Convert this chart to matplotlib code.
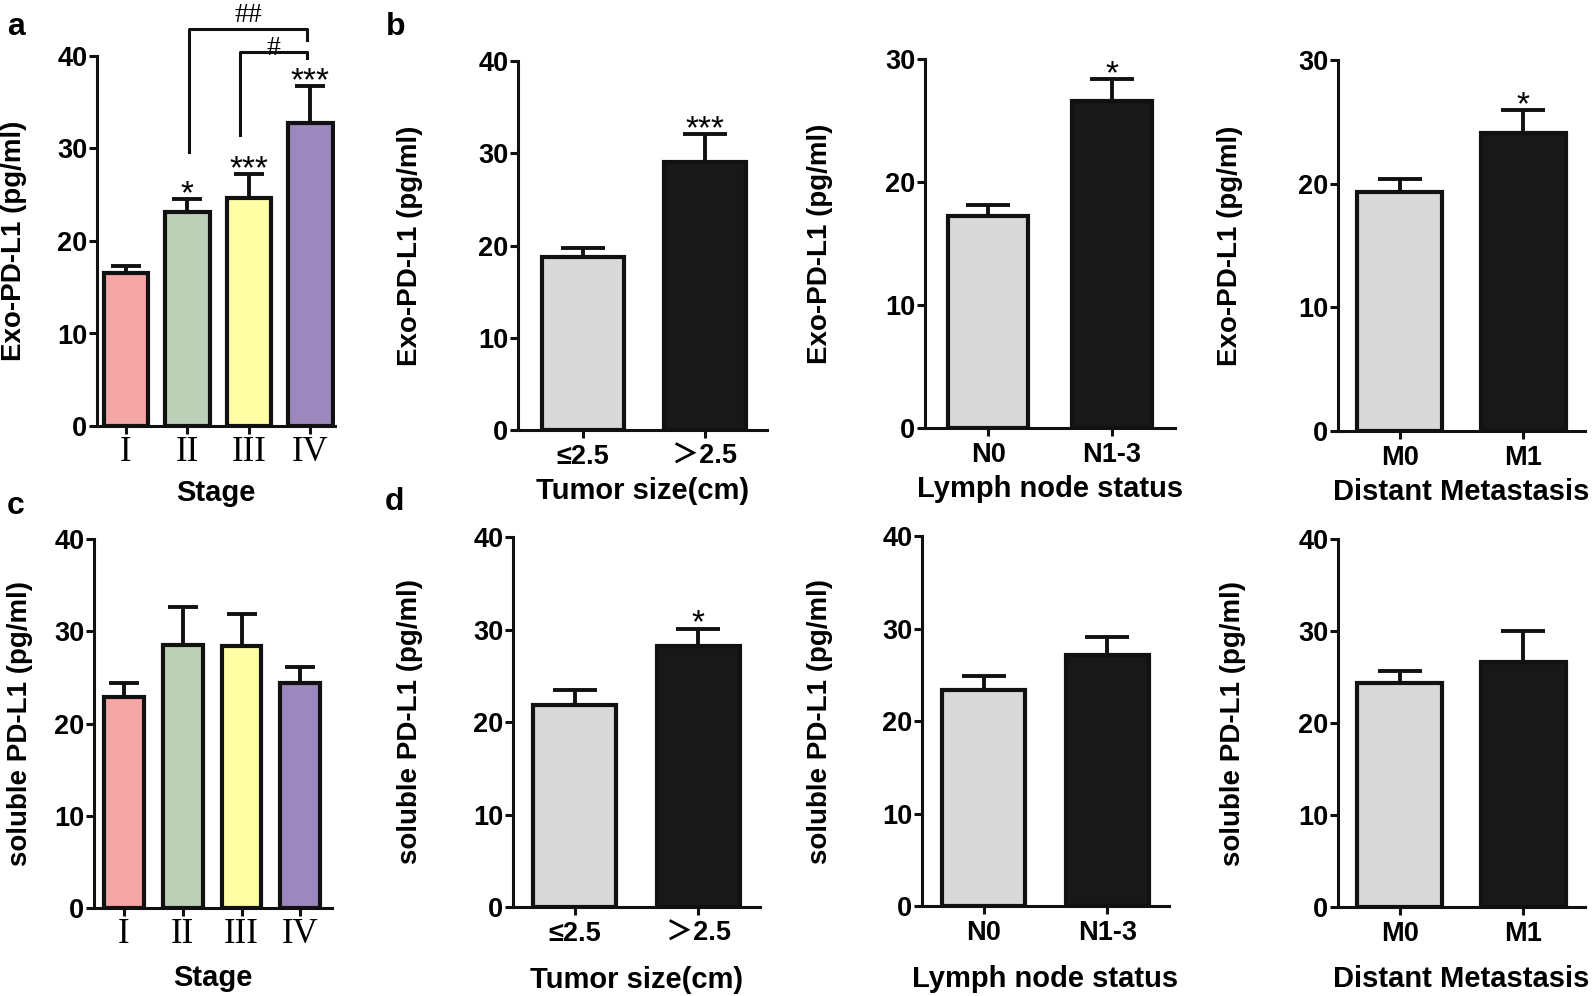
import matplotlib.pyplot as plt
import numpy as np

plt.rcParams['font.family'] = ['Liberation Sans', 'Noto Sans CJK SC', 'DejaVu Sans']
plt.rcParams['font.weight'] = 'bold'
plt.rcParams['axes.labelweight'] = 'bold'

# stage panels (a, c)
stage_labels = ['I', 'II', 'III', 'IV']
stage_colors = ['#F4A7A5', '#BDD0B8', '#FFFFA6', '#9D88BD']
exo_stage_mean = [16.5, 23.1, 24.6, 32.8]
exo_stage_err = [0.8, 1.4, 2.6, 4.0]
exo_stage_stars = ['', '*', '***', '***']
sol_stage_mean = [22.9, 28.5, 28.4, 24.4]
sol_stage_err = [1.5, 4.1, 3.5, 1.7]

# hash brackets in panel a
bracket_x = [[1.03, 2.94], [1.85, 2.94]]
bracket_ends = [[29.6, 41.7], [31.5, 39.8]]
bracket_top = [42.9, 40.4]
bracket_text = ['##', '#']
bracket_text_y = [43.7, 40.1]

# clinical groups (b, d)
size_labels = ['≤2.5', '＞2.5']
node_labels = ['N0', 'N1-3']
meta_labels = ['M0', 'M1']
two_colors = ['#D9D9D9', '#181818']

exo_size_mean = [18.8, 29.1]
exo_size_err = [0.9, 3.0]
exo_size_stars = ['', '***']
exo_node_mean = [17.25, 26.6]
exo_node_err = [0.85, 1.8]
exo_node_stars = ['', '*']
exo_meta_mean = [19.3, 24.1]
exo_meta_err = [1.1, 1.85]
exo_meta_stars = ['', '*']

sol_size_mean = [21.8, 28.2]
sol_size_err = [1.7, 1.9]
sol_size_stars = ['', '*']
sol_node_mean = [23.35, 27.1]
sol_node_err = [1.55, 2.0]
sol_meta_mean = [24.3, 26.6]
sol_meta_err = [1.4, 3.4]

W, H = 1595, 996
fig = plt.figure(figsize=(W / 100, H / 100), dpi=100)


def px_axes(left, right, top, bottom):
    return fig.add_axes([left / W, 1 - bottom / H, (right - left) / W, (bottom - top) / H])


def panel(ax, labels, means, errs, colors, ymax, ylabel, xlabel, xlim, width,
          capsize, ylab_x, xlab_y, stars=None, roman=False):
    x = np.arange(len(labels))
    ax.bar(x, means, width=width, color=colors, edgecolor='#111111', linewidth=3, zorder=3)
    ax.errorbar(x, means, yerr=[np.zeros(len(errs)), errs], fmt='none', ecolor='#111111',
                elinewidth=2.8, capsize=capsize, capthick=2.8, zorder=2)
    if stars:
        for xi, m, e, s in zip(x, means, errs, stars):
            if s:
                ax.annotate(s, xy=(xi, m + e), xytext=(0, -3), textcoords='offset points',
                            ha='center', va='baseline', fontsize=24, fontweight='normal',
                            annotation_clip=False)
    ax.set_xlim(*xlim)
    ax.set_ylim(0, ymax)
    ax.set_yticks(np.arange(0, ymax + 1, 10))
    ax.set_xticks(x)
    if roman:
        ax.set_xticklabels(labels, fontfamily='Liberation Serif', fontweight='normal', fontsize=25)
        ax.tick_params(axis='x', pad=1)
    else:
        ax.set_xticklabels(labels, fontsize=19.5, fontweight='bold')
        ax.tick_params(axis='x', pad=4)
    for t in ax.get_yticklabels():
        t.set_fontweight('bold')
    ax.tick_params(axis='y', labelsize=19.5, pad=1)
    ax.tick_params(direction='out', length=6, width=2.2, color='#111111')
    for s in ['top', 'right']:
        ax.spines[s].set_visible(False)
    for s in ['left', 'bottom']:
        ax.spines[s].set_linewidth(2.2)
        ax.spines[s].set_color('#111111')
    ax.set_ylabel(ylabel, fontsize=20, fontweight='bold', va='center')
    ax.yaxis.set_label_coords(ylab_x, 0.5)
    ax.set_xlabel(xlabel, fontsize=21, fontweight='bold', va='center')
    ax.xaxis.set_label_coords(0.5, xlab_y)


exo = 'Exo-PD-L1 (pg/ml)'
sol = 'soluble PD-L1 (pg/ml)'

# panel a
ax_a = px_axes(97, 335, 56, 426)
panel(ax_a, stage_labels, exo_stage_mean, exo_stage_err, stage_colors, 40, exo, 'Stage',
      (-0.47, 3.40), 0.72, 11, -0.349, -0.181, stars=exo_stage_stars, roman=True)
for bx, be, bt, txt, ty in zip(bracket_x, bracket_ends, bracket_top, bracket_text, bracket_text_y):
    ax_a.plot([bx[0], bx[0], bx[1], bx[1]], [be[0], bt, bt, be[1]], color='#111111',
              lw=2.2, clip_on=False)
    ax_a.text((bx[0] + bx[1]) / 2, ty, txt, ha='center', va='baseline', fontsize=20,
              fontfamily='Liberation Serif', fontweight='normal', clip_on=False)

# panel c
ax_c = px_axes(94, 332, 539, 908)
panel(ax_c, stage_labels, sol_stage_mean, sol_stage_err, stage_colors, 40, sol, 'Stage',
      (-0.51, 3.54), 0.68, 11, -0.311, -0.19, roman=True)

# panel b
ax_b1 = px_axes(518, 767, 61, 430)
panel(ax_b1, size_labels, exo_size_mean, exo_size_err, two_colors, 40, exo, 'Tumor size(cm)',
      (-0.53, 1.51), 0.67, 15.5, -0.434, -0.165, stars=exo_size_stars)
ax_b2 = px_axes(925, 1175, 59, 428)
panel(ax_b2, node_labels, exo_node_mean, exo_node_err, two_colors, 30, exo, 'Lymph node status',
      (-0.51, 1.51), 0.65, 15.5, -0.42, -0.165, stars=exo_node_stars)
ax_b3 = px_axes(1338, 1585, 60, 431)
panel(ax_b3, meta_labels, exo_meta_mean, exo_meta_err, two_colors, 30, exo, 'Distant Metastasis',
      (-0.5, 1.5), 0.69, 15.5, -0.437, -0.165, stars=exo_meta_stars)

# panel d
ax_d1 = px_axes(513, 760, 537, 907)
panel(ax_d1, size_labels, sol_size_mean, sol_size_err, two_colors, 40, sol, 'Tumor size(cm)',
      (-0.5, 1.5), 0.67, 15.5, -0.417, -0.197, stars=sol_size_stars)
ax_d2 = px_axes(922, 1169, 536, 906)
panel(ax_d2, node_labels, sol_node_mean, sol_node_err, two_colors, 40, sol, 'Lymph node status',
      (-0.5, 1.5), 0.67, 15.5, -0.413, -0.197)
ax_d3 = px_axes(1338, 1585, 539, 907)
panel(ax_d3, meta_labels, sol_meta_mean, sol_meta_err, two_colors, 40, sol, 'Distant Metastasis',
      (-0.5, 1.5), 0.69, 15.5, -0.425, -0.197)

# panel letters
for letter, lx, ly in [('a', 16, 27), ('b', 396, 27), ('c', 16, 506), ('d', 394, 502)]:
    fig.text(lx / W, 1 - ly / H, letter, fontsize=23, fontweight='bold', ha='center', va='center')

fig.savefig('out.png', dpi=100)
